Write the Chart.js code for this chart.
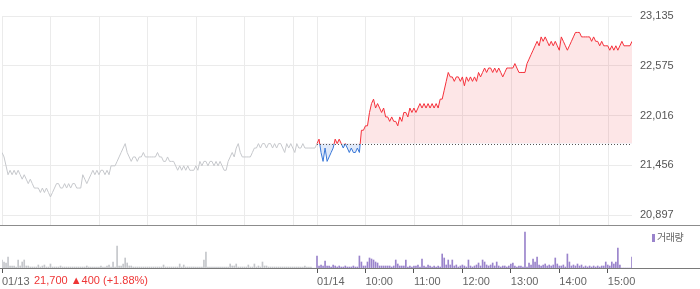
<!DOCTYPE html>
<html>
<head>
<meta charset="utf-8">
<script src="https://cdn.jsdelivr.net/npm/chart.js@4.4.1/dist/chart.umd.min.js"></script>
<style>
  html, body { margin: 0; padding: 0; background: #fff; }
  #wrap { position: relative; width: 700px; height: 289px; font-family: "Liberation Sans", Arial, sans-serif; }
  #info { position: absolute; left: 34px; top: 274px; font-size: 11px; line-height: 13px; color: #ee3535; white-space: nowrap; }
  #legend { position: absolute; left: 652px; top: 231px; font-size: 10px; line-height: 12px; color: #666; white-space: nowrap;
            font-family: "Noto Sans CJK KR", sans-serif; letter-spacing: -0.5px; }
  #legend i { display: inline-block; width: 3px; height: 8px; background: #9a84cc; margin-right: 2px; vertical-align: -1px; }
</style>
</head>
<body>
<div id="wrap">
  <canvas id="chart" width="700" height="289"></canvas>
  <div id="info">21,700 ▲400 (+1.88%)</div>
  <div id="legend"><i></i>거래량</div>
</div>
<script>
// samples every 2.5 minutes, 09:00 ~ 15:30 for each day
const STEP = 2.5;
const SESSION = 390;
const prevClose = 21700;

const priceTicks = [20897, 21456, 22016, 22575, 23135];
const tickMinutes = [0, 390, 450, 510, 570, 630, 690, 750];
const tickLabels = ['01/13', '01/14', '10:00', '11:00', '12:00', '13:00', '14:00', '15:00'];
const gridMinutes = [0, 60, 120, 180, 240, 300, 360, 390, 450, 510, 570, 630, 690, 750];

const price0113 = [
  21600, 21550, 21450, 21350, 21400, 21350, 21400, 21350, 21400, 21350,
  21300, 21350, 21300, 21250, 21300, 21250, 21200, 21200, 21200, 21150,
  21200, 21150, 21200, 21150, 21100, 21150, 21200, 21250, 21250, 21200,
  21200, 21250, 21200, 21250, 21200, 21250, 21250, 21200, 21200, 21200,
  21350, 21300, 21250, 21300, 21350, 21400, 21350, 21400, 21350, 21400,
  21400, 21350, 21400, 21350, 21450, 21450, 21450, 21500, 21550, 21600,
  21650, 21700, 21600, 21550, 21500, 21550, 21550, 21500, 21550, 21550,
  21600, 21550, 21550, 21550, 21550, 21550, 21550, 21600, 21550,
  21550, 21500, 21500, 21550, 21500, 21500, 21500, 21450, 21400, 21450,
  21400, 21450, 21400, 21450, 21400, 21400, 21400, 21450, 21400, 21500,
  21450, 21500, 21500, 21450, 21500, 21500, 21450, 21500, 21450, 21500,
  21450, 21400, 21400, 21500, 21550, 21600, 21550, 21650, 21700, 21600,
  21550, 21550, 21550, 21550, 21550, 21600, 21650, 21650, 21700, 21650,
  21700, 21700, 21650, 21700, 21700, 21650, 21700, 21650, 21700, 21700,
  21650, 21600, 21700, 21650, 21700, 21650, 21600, 21700, 21650, 21650,
  21700, 21650, 21650, 21650, 21650, 21650, 21650, 21700
];

const price0114 = [
  21700, 21750, 21600, 21500, 21650, 21500, 21550, 21600, 21650, 21750,
  21700, 21750, 21700, 21650, 21700, 21650, 21600, 21650, 21600, 21600,
  21650, 21600, 21850, 21850, 21900, 21900, 22050, 22150, 22200, 22100,
  22150, 22100, 22050, 22100, 22000, 22000, 21950, 22000, 21950, 21950,
  21900, 22000, 21950, 22050, 22050, 22000, 22100, 22050, 22100, 22050,
  22100, 22150, 22100, 22150, 22100, 22150, 22100, 22150, 22100, 22150,
  22100, 22200, 22200, 22300, 22400, 22500, 22450, 22450, 22400, 22450,
  22450, 22400, 22450, 22350, 22450, 22400, 22450, 22400, 22450, 22400,
  22500, 22450, 22500, 22550, 22500, 22550, 22550, 22500, 22550, 22500,
  22550, 22500, 22450, 22500, 22550, 22550, 22550, 22550, 22600, 22550,
  22500, 22500, 22500, 22500, 22600, 22650, 22700, 22750, 22800, 22850,
  22800, 22900, 22850, 22900, 22850, 22800, 22850, 22800, 22850, 22800,
  22750, 22900, 22850, 22800, 22750, 22800, 22850, 22900, 22950, 22950,
  22950, 22900, 22900, 22900, 22900, 22900, 22850, 22900, 22850, 22850,
  22800, 22850, 22800, 22800, 22800, 22750, 22800, 22750, 22800, 22750,
  22800, 22850, 22800, 22800, 22800, 22800, 22850
];

const volume0113 = [
  8, 6, 5, 11, 2, 2, 2, 1, 8, 2,
  6, 8, 2, 2, 1, 1, 1, 1, 3, 1,
  2, 3, 1, 1, 4, 1, 1, 1, 1, 2,
  1, 1, 1, 1, 1, 1, 1, 1, 1, 1,
  1, 1, 2, 1, 1, 1, 1, 1, 1, 2,
  1, 1, 2, 3, 1, 6, 1, 22, 2, 2,
  4, 10, 5, 2, 2, 1, 1, 1, 1, 1,
  1, 1, 1, 1, 1, 1, 1, 1, 1, 1,
  3, 1, 1, 1, 1, 1, 1, 1, 4, 1,
  3, 1, 1, 1, 1, 1, 1, 1, 1, 1,
  8, 16, 1, 1, 1, 1, 1, 1, 1, 1,
  1, 1, 1, 4, 2, 2, 4, 1, 1, 1,
  1, 1, 3, 1, 1, 4, 1, 2, 1, 6,
  2, 2, 1, 1, 1, 1, 1, 1, 1, 1,
  1, 1, 1, 1, 1, 1, 1, 1, 1, 1,
  2, 1, 1, 1, 0, 0, 0
];

const volume0114 = [
  12, 2, 3, 2, 7, 2, 2, 1, 3, 2,
  1, 2, 1, 1, 2, 1, 1, 1, 2, 1,
  1, 12, 6, 2, 2, 6, 10, 9, 8, 6,
  5, 2, 2, 2, 2, 2, 2, 1, 2, 8,
  4, 2, 2, 2, 8, 1, 2, 1, 2, 2,
  3, 1, 9, 2, 1, 3, 2, 1, 2, 1,
  2, 1, 14, 10, 3, 8, 3, 8, 2, 3,
  1, 2, 3, 2, 1, 8, 2, 1, 2, 3,
  5, 2, 8, 6, 3, 2, 3, 5, 2, 6,
  2, 1, 2, 2, 1, 2, 4, 5, 2, 1,
  2, 2, 1, 36, 1, 5, 3, 9, 6, 11,
  3, 2, 3, 4, 2, 3, 2, 3, 10, 4,
  2, 2, 3, 1, 14, 6, 2, 3, 2, 4,
  2, 3, 1, 2, 1, 2, 1, 2, 1, 2,
  1, 2, 2, 6, 3, 2, 6, 4, 6, 20,
  3, 0, 0, 0, 0, 0, 11
];

const toPoints = (arr, offset) => arr.map((v, i) => ({ x: offset + i * STEP, y: v }));

const RED = '#f5303a';
const BLUE = '#3a78d8';

// red above the previous close, blue below
function splitColor(ctx) {
  const chart = ctx.chart;
  const area = chart.chartArea;
  if (!area) return RED;
  const yBase = chart.scales.y.getPixelForValue(prevClose);
  const s = Math.min(Math.max((yBase - area.top) / (area.bottom - area.top), 0), 1);
  const g = chart.ctx.createLinearGradient(0, area.top, 0, area.bottom);
  g.addColorStop(0, RED);
  g.addColorStop(s, RED);
  g.addColorStop(s, BLUE);
  g.addColorStop(1, BLUE);
  return g;
}

const panelLines = {
  id: 'panelLines',
  beforeDatasetsDraw(chart) {
    const { ctx, chartArea: a, scales: { x } } = chart;
    const sepY = a.bottom - 43;
    ctx.save();
    ctx.strokeStyle = '#ebebeb';
    ctx.lineWidth = 1;
    gridMinutes.forEach(m => {
      const px = Math.round(x.getPixelForValue(m)) + 0.5;
      ctx.beginPath();
      ctx.moveTo(px, a.top);
      ctx.lineTo(px, sepY);
      ctx.stroke();
    });
    ctx.restore();
  },
  afterDatasetsDraw(chart) {
    const { ctx, chartArea: a, scales: { x, y } } = chart;
    const sepY = a.bottom - 43;
    ctx.save();
    ctx.lineWidth = 1;
    // panel separator and volume baseline
    ctx.strokeStyle = '#8c8c8c';
    ctx.beginPath();
    ctx.moveTo(0, sepY + 0.5);
    ctx.lineTo(chart.width, sepY + 0.5);
    ctx.stroke();
    ctx.strokeStyle = '#7a7a7a';
    ctx.beginPath();
    ctx.moveTo(0, a.bottom + 0.5);
    ctx.lineTo(chart.width, a.bottom + 0.5);
    ctx.stroke();
    // previous close, dotted
    const by = Math.round(y.getPixelForValue(prevClose)) + 0.5;
    ctx.strokeStyle = '#555';
    ctx.setLineDash([1, 2]);
    ctx.beginPath();
    ctx.moveTo(x.getPixelForValue(SESSION), by);
    ctx.lineTo(a.right, by);
    ctx.stroke();
    ctx.restore();
  }
};

Chart.defaults.font.family = '"Liberation Sans", Arial, sans-serif';
Chart.defaults.font.size = 11;

new Chart(document.getElementById('chart'), {
  type: 'line',
  data: {
    datasets: [
      {
        data: toPoints(price0113, 0),
        borderColor: '#c6c8cc',
        borderWidth: 1,
        pointRadius: 0,
        fill: false,
        yAxisID: 'y'
      },
      {
        data: toPoints(price0114, SESSION),
        borderColor: splitColor,
        borderWidth: 1,
        pointRadius: 0,
        fill: { value: prevClose, above: 'rgba(240, 60, 70, 0.13)', below: 'rgba(60, 120, 215, 0.16)' },
        yAxisID: 'y'
      },
      {
        type: 'bar',
        data: toPoints(volume0113, 0),
        backgroundColor: '#c5c7cb',
        barThickness: 1,
        grouped: false,
        yAxisID: 'vol'
      },
      {
        type: 'bar',
        data: toPoints(volume0114, SESSION),
        backgroundColor: '#9a84cc',
        barThickness: 1,
        grouped: false,
        yAxisID: 'vol'
      }
    ]
  },
  options: {
    responsive: false,
    animation: false,
    layout: { padding: { top: 16, left: 0, right: 0, bottom: 0 } },
    plugins: { legend: { display: false }, tooltip: { enabled: false } },
    scales: {
      x: {
        type: 'linear',
        min: 0,
        max: SESSION * 2,
        offset: false,
        afterBuildTicks: s => { s.ticks = tickMinutes.map(v => ({ value: v })); },
        afterFit: s => { s.height = 21; },
        ticks: {
          align: 'start',
          autoSkip: false,
          maxRotation: 0,
          padding: 2,
          color: '#666',
          callback: (v, i) => tickLabels[i]
        },
        grid: { offset: false, drawOnChartArea: false, drawTicks: true, tickLength: 5, tickColor: '#555' },
        border: { display: false }
      },
      y: {
        position: 'right',
        min: 20301,
        max: 23135,
        afterBuildTicks: s => { s.ticks = priceTicks.map(v => ({ value: v })); },
        afterFit: s => { s.width = 68; },
        ticks: {
          padding: 8,
          color: '#555',
          callback: v => v.toLocaleString('en-US')
        },
        grid: { color: '#ebebeb', drawTicks: false },
        border: { display: false }
      },
      vol: {
        display: false,
        min: 0,
        max: 252
      }
    }
  },
  plugins: [panelLines]
});
</script>
</body>
</html>
